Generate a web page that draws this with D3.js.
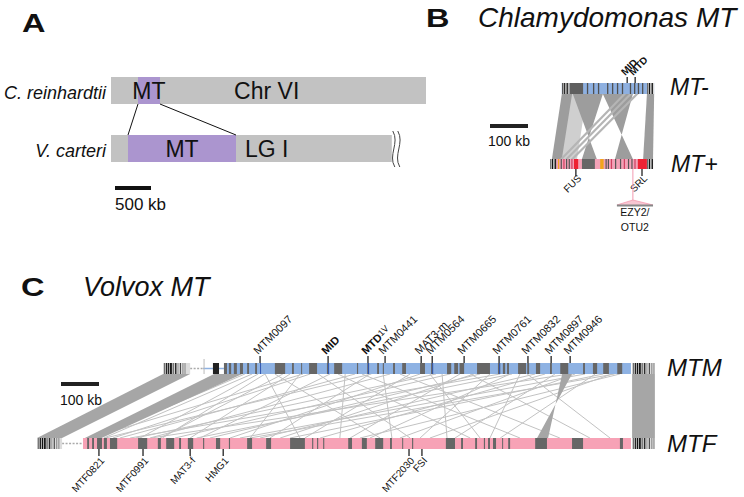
<!DOCTYPE html>
<html><head><meta charset="utf-8">
<script src="https://cdn.jsdelivr.net/npm/d3@7"></script>
<style>
body{margin:0;background:#fff}
svg{display:block}
text{font-family:"Liberation Sans",Arial,Helvetica,sans-serif;fill:#111}
</style>
</head><body>
<svg id="c" width="744" height="497"></svg>
<script>
// ================= DATA =================
// Panel A (kb)
const aSpecies = ["C. reinhardtii", "V. carteri"];
const aChromNames = ["Chr VI", "LG I"];
const aChromLength = [4375, 3900];
const aMTStart = [375, 236];
const aMTEnd = [680, 1736];
const aChromLabelKb = [1710, 1860];
const aScaleKb = 500;

// Panel B (kb along a shared axis)
const bRows = ["MT-", "MT+"];
const bMinusSpan = [189, 432];
const bPlusSpan = [158, 429];
const bMinusEnds = [[189, 210], [413, 432]];
const bPlusEnds = [[158, 174], [413, 429]];
const bMinusDark = [[210, 245]];
const bMinusStripes = [255, 271, 284, 308, 321, 334, 347, 368, 379, 389, 400];
const bPlusDark = [[242, 276]];
const bPlusRed = [[221, 232], [389, 413]];
const bPlusOrange = [[179, 182], [290, 299]];
const bPlusStripes = [186, 193, 200, 207, 214, 304, 310, 318, 329, 342, 352, 363, 372, 380];
const bRibbons = [ // [MT- start, MT- end, MT+ start, MT+ end]; reversed = inverted
  [189, 216, 163, 189],
  [218, 297, 281, 242],
  [297, 376, 376, 329],
  [413, 432, 403, 429]
];
const bLightRibbons = [[210, 255, 184, 229]];
const bThinBands = [[350, 358, 184, 192], [366, 374, 198, 206], [383, 391, 213, 221]];
const bMinusGenes = ["MID", "MTD"];
const bMinusGenePos = [361, 382];
const bPlusGenes = ["FUS", "SRL"];
const bPlusGenePos = [226, 400];
const bInsertPos = 376;
const bInsertSpan = [334, 429];
const bInsertLabel = ["EZY2/", "OTU2"];
const bScaleKb = 100;
const endStripesB = [[1, 2, 0.8], [5, 3, 1], [10, 2, 0.6], [13, 3, 0.9], [18, 2, 0.5]];

// Panel C (kb)
const cMTMSpan = [492, 1563];
const cMTFSpan = [121, 1563];
const cMTMEnds = [[332, 403], [1566, 1626]];
const cMTFEnds = [[0, 66], [1566, 1626]];
const cMTMDashed = [403, 437];
const cMTFDashed = [66, 121];
const cMTMBlueLink = [437, 492];
const cMTMBlack = [[463, 479]];
const cMTMBlocks = [[492,500],[505,511],[518,526],[534,542],[553,558],[574,579],[626,653],[671,676],[695,697],[716,737],[763,766],[782,803],[842,845],[869,874],[895,900],[910,913],[937,942],[961,971],[1008,1021],[1037,1042],[1079,1090],[1098,1108],[1112,1124],[1158,1192],[1213,1219],[1226,1232],[1237,1242],[1266,1287],[1290,1295],[1313,1324],[1350,1355],[1377,1398],[1437,1442],[1463,1474],[1490,1505],[1527,1540]];
const cMTMBlueMarks = [587, 766, 871, 1040, 1216];
const cMTFBlocks = [[132,137],[145,150],[158,171],[176,184],[192,211],[266,290],[318,326],[340,361],[374,379],[397,411],[437,440],[471,482],[505,508],[553,566],[603,616],[666,705],[724,727],[737,740],[753,756],[819,829],[855,868],[890,911],[929,934],[961,963],[987,990],[1076,1100],[1116,1121],[1153,1158],[1176,1179],[1187,1192],[1200,1208],[1224,1226],[1240,1245],[1311,1342],[1408,1437],[1534,1542]];
const cMTMGenes = ["MTM0097", "MID", "MTD1V", "MTM0441", "MAT3-m", "MTM0564", "MTM0665", "MTM0761", "MTM0832", "MTM0897", "MTM0946"];
const cMTMGenePos = [587, 766, 871, 916, 1011, 1040, 1124, 1216, 1292, 1353, 1403];
const cMTFGenes = ["MTF0821", "MTF0991", "MAT3-f", "HMG1", "MTF2030", "FSI"];
const cMTFGenePos = [163, 279, 403, 490, 979, 1013];
const cRibbons = [ // [MTM start, MTM end, MTF start, MTF end]
  [332, 403, 0, 66],
  [466, 540, 126, 170],
  [1382, 1408, 1345, 1316],
  [1566, 1626, 1566, 1626]
];
const cLinks = [ // [MTM kb, MTF kb]
  [547,153],[566,176],[582,271],[600,692],[626,903],[647,324],[666,403],[692,561],
  [719,200],[740,982],[771,429],[792,1140],[811,797],[837,218],[855,1271],[876,613],
  [911,934],[929,297],[955,1376],[982,705],[1008,508],[1034,1166],[1066,1079],[1087,363],
  [1113,824],[1140,1455],[1166,455],[1192,1008],[1219,245],[1245,876],[1271,1192],[1290,1508],
  [1311,587],[1337,745],[1363,1100],[1416,955],[1442,534],[1469,1219],[1490,666],[1513,1034],
  [1534,850],[600,330],[700,140],[880,180],[1050,260],[1150,640],[1250,420],[1400,300],[1520,560]
];
const endStripesC = [[2,3,0.5],[7,4,0.9],[13,3,1],[18,5,0.95],[25,3,0.6],[31,4,0.85],[38,2,0.4],[44,3,0.7],[51,2,0.5],[56,3,0.3]];
const cScaleKb = 100;

// ================= DRAW =================
const svg = d3.select("#c");
const shade = d3.scaleLinear().domain([0, 1]).range(["#c8c8c8", "#111111"]);

function letter(t, x, y) {
  svg.append("text").attr("transform", `translate(${x},${y}) scale(1.3,1)`)
    .attr("font-size", 25).attr("font-weight", "bold").text(t);
}
letter("A", 22, 32); letter("B", 426, 27); letter("C", 21, 296);

// ---------- Panel A ----------
const xA = d3.scaleLinear().domain([0, 500]).range([0, 36]);
const aX0 = 111;
const aRowY = d3.scalePoint().domain(aSpecies).range([77, 135]);
const aH = 27;
const gA = svg.append("g");
gA.selectAll(".chr").data(aSpecies).join("rect")
  .attr("x", aX0).attr("y", d => aRowY(d))
  .attr("width", (d, i) => xA(aChromLength[i])).attr("height", aH).attr("fill", "#c2c2c2");
gA.selectAll(".mt").data(aSpecies).join("rect")
  .attr("x", (d, i) => aX0 + xA(aMTStart[i])).attr("y", d => aRowY(d))
  .attr("width", (d, i) => xA(aMTEnd[i]) - xA(aMTStart[i])).attr("height", aH).attr("fill", "#ab95cf");
gA.selectAll(".sp").data(aSpecies).join("text")
  .attr("x", 106).attr("y", d => aRowY(d) + 22).attr("text-anchor", "end")
  .attr("font-size", 18).attr("font-style", "italic").text(d => d);
gA.selectAll(".mtl").data(aSpecies).join("text")
  .attr("x", (d, i) => aX0 + (xA(aMTStart[i]) + xA(aMTEnd[i])) / 2).attr("y", d => aRowY(d) + 22)
  .attr("text-anchor", "middle").attr("font-size", 23).text("MT");
gA.selectAll(".chl").data(aSpecies).join("text")
  .attr("x", (d, i) => aX0 + xA(aChromLabelKb[i])).attr("y", d => aRowY(d) + 22)
  .attr("font-size", 23).text((d, i) => aChromNames[i]);
// connectors
[[aMTStart[0], aMTStart[1]], [aMTEnd[0], aMTEnd[1]]].forEach(p => {
  gA.append("line").attr("x1", aX0 + xA(p[0])).attr("y1", aRowY(aSpecies[0]) + aH)
    .attr("x2", aX0 + xA(p[1])).attr("y2", aRowY(aSpecies[1]))
    .attr("stroke", "#111").attr("stroke-width", 1);
});
// break marks
const bx = aX0 + xA(aChromLength[1]);
const by = aRowY(aSpecies[1]);
[1, 6].forEach(o => {
  gA.append("path").attr("d", `M${bx + o},${by - 4} C${bx + o + 7},${by + 8} ${bx + o - 5},${by + 20} ${bx + o + 2},${by + aH + 5}`)
    .attr("fill", "none").attr("stroke", "#444").attr("stroke-width", 1);
});
gA.append("line").attr("x1", 115).attr("x2", 115 + xA(aScaleKb)).attr("y1", 188).attr("y2", 188)
  .attr("stroke", "#111").attr("stroke-width", 4);
gA.append("text").attr("x", 115).attr("y", 210).attr("font-size", 17).text(aScaleKb + " kb");

// ---------- Panel B ----------
svg.append("text").attr("x", 478).attr("y", 27).attr("font-size", 28).attr("font-style", "italic").text("Chlamydomonas MT");
const xB = d3.scaleLinear().domain([0, 100]).range([490, 528]);
const bMinusY = 83, bMinusH = 11, bPlusY = 159, bPlusH = 10;
const gB = svg.append("g");
// ribbons
gB.selectAll(".lr").data(bLightRibbons).join("path")
  .attr("d", d => `M${xB(d[0])},${bMinusY + bMinusH}L${xB(d[1])},${bMinusY + bMinusH}L${xB(d[3])},${bPlusY}L${xB(d[2])},${bPlusY}Z`)
  .attr("fill", "#cfcfcf");
gB.selectAll(".rb").data(bRibbons).join("path")
  .attr("d", d => `M${xB(d[0])},${bMinusY + bMinusH}L${xB(d[1])},${bMinusY + bMinusH}L${xB(d[3])},${bPlusY}L${xB(d[2])},${bPlusY}Z`)
  .attr("fill", "#9d9d9d");
gB.selectAll(".tb").data(bThinBands).join("path")
  .attr("d", d => `M${xB(d[0])},${bMinusY + bMinusH}L${xB(d[1])},${bMinusY + bMinusH}L${xB(d[3])},${bPlusY}L${xB(d[2])},${bPlusY}Z`)
  .attr("fill", "#b5b5b5");
// MT- bar
gB.append("rect").attr("x", xB(bMinusSpan[0])).attr("y", bMinusY).attr("width", xB(bMinusSpan[1]) - xB(bMinusSpan[0])).attr("height", bMinusH).attr("fill", "#8eb0e0");
gB.selectAll(".md").data(bMinusDark).join("rect").attr("x", d => xB(d[0])).attr("width", d => xB(d[1]) - xB(d[0])).attr("y", bMinusY).attr("height", bMinusH).attr("fill", "#5f5f5f");
gB.selectAll(".ms").data(bMinusStripes).join("rect").attr("x", d => xB(d)).attr("width", 1.3).attr("y", bMinusY).attr("height", bMinusH).attr("fill", "#505050");
// MT+ bar
gB.append("rect").attr("x", xB(bPlusSpan[0])).attr("y", bPlusY).attr("width", xB(bPlusSpan[1]) - xB(bPlusSpan[0])).attr("height", bPlusH).attr("fill", "#f3a2b7");
gB.selectAll(".pr").data(bPlusRed).join("rect").attr("x", d => xB(d[0])).attr("width", d => xB(d[1]) - xB(d[0])).attr("y", bPlusY).attr("height", bPlusH).attr("fill", "#ee2233");
gB.selectAll(".pd").data(bPlusDark).join("rect").attr("x", d => xB(d[0])).attr("width", d => xB(d[1]) - xB(d[0])).attr("y", bPlusY).attr("height", bPlusH).attr("fill", "#666");
gB.selectAll(".po").data(bPlusOrange).join("rect").attr("x", d => xB(d[0])).attr("width", d => xB(d[1]) - xB(d[0])).attr("y", bPlusY).attr("height", bPlusH).attr("fill", "#f2a51c");
gB.selectAll(".ps").data(bPlusStripes).join("rect").attr("x", d => xB(d)).attr("width", 1.2).attr("y", bPlusY).attr("height", bPlusH).attr("fill", (d, i) => i % 3 === 1 ? "#d04060" : "#555");
// stripe ends
function stripeEnds(g, ends, y, h, pat, xs) {
  ends.forEach(e => {
    g.append("rect").attr("x", xs(e[0])).attr("y", y).attr("width", xs(e[1]) - xs(e[0])).attr("height", h).attr("fill", "#dcdcdc");
    pat.forEach(s => {
      if (e[0] + s[0] + s[1] <= e[1] + 0.5)
        g.append("rect").attr("x", xs(e[0] + s[0])).attr("y", y).attr("width", Math.max(0.8, xs(e[0] + s[0] + s[1]) - xs(e[0] + s[0]))).attr("height", h).attr("fill", shade(s[2]));
    });
  });
}
stripeEnds(gB, bMinusEnds, bMinusY, bMinusH, endStripesB, xB);
stripeEnds(gB, bPlusEnds, bPlusY, bPlusH, endStripesB, xB);
// genes
gB.selectAll(".mg").data(bMinusGenePos).join("line").attr("x1", d => xB(d)).attr("x2", d => xB(d)).attr("y1", bMinusY - 6).attr("y2", bMinusY).attr("stroke", "#222").attr("stroke-width", 1.3);
gB.selectAll(".mgt").data(bMinusGenes).join("text")
  .attr("transform", (d, i) => `translate(${xB(bMinusGenePos[i]) - 2},${bMinusY - 7}) rotate(-45)`)
  .attr("font-size", 10).attr("font-weight", "bold").text(d => d);
gB.selectAll(".pg").data(bPlusGenePos).join("line").attr("x1", d => xB(d)).attr("x2", d => xB(d)).attr("y1", bPlusY + bPlusH).attr("y2", bPlusY + bPlusH + 7).attr("stroke", "#222").attr("stroke-width", 1.3);
gB.selectAll(".pgt").data(bPlusGenes).join("text")
  .attr("transform", (d, i) => `translate(${xB(bPlusGenePos[i]) + 6},${bPlusY + bPlusH + 10}) rotate(-45)`)
  .attr("text-anchor", "end").attr("font-size", 10).attr("fill", "#333").text(d => d);
// insert
const ix = xB(bInsertPos);
gB.append("line").attr("x1", ix).attr("x2", ix).attr("y1", bPlusY + bPlusH).attr("y2", 201).attr("stroke", "#f29ab0").attr("stroke-width", 1);
gB.append("path").attr("d", `M${xB(bInsertSpan[0])},205L${ix},200L${xB(bInsertSpan[1])},205`).attr("fill", "#f7c6d2").attr("stroke", "#f29ab0").attr("stroke-width", 0.8);
gB.append("rect").attr("x", xB(bInsertSpan[0])).attr("y", 204.5).attr("width", xB(bInsertSpan[1]) - xB(bInsertSpan[0])).attr("height", 2).attr("fill", "#888");
gB.selectAll(".il").data(bInsertLabel).join("text").attr("x", ix + 2).attr("y", (d, i) => 216 + i * 15)
  .attr("text-anchor", "middle").attr("font-size", 10.5).attr("fill", "#222").text(d => d);
gB.selectAll(".rowl").data(bRows).join("text").attr("x", (d, i) => i ? 671 : 670).attr("y", (d, i) => i ? 172 : 95)
  .attr("font-size", 23).attr("font-style", "italic").text(d => d);
gB.append("line").attr("x1", xB(0)).attr("x2", xB(bScaleKb)).attr("y1", 126).attr("y2", 126).attr("stroke", "#222").attr("stroke-width", 4);
gB.append("text").attr("x", 488).attr("y", 146).attr("font-size", 14).text(bScaleKb + " kb");

// ---------- Panel C ----------
svg.append("text").attr("x", 83).attr("y", 296).attr("font-size", 27).attr("font-style", "italic").text("Volvox MT");
const xC = d3.scaleLinear().domain([0, 100]).range([37, 75]);
const mY = 363, mH = 11, fY = 438, fH = 11;
const gC = svg.append("g");
gC.selectAll(".lk").data(cLinks).join("line")
  .attr("x1", d => xC(d[0])).attr("y1", mY + mH).attr("x2", d => xC(d[1])).attr("y2", fY)
  .attr("stroke", "#c2c2c2").attr("stroke-width", 1);
gC.selectAll(".cr").data(cRibbons).join("path")
  .attr("d", d => `M${xC(d[0])},${mY + mH}L${xC(d[1])},${mY + mH}L${xC(d[3])},${fY}L${xC(d[2])},${fY}Z`)
  .attr("fill", "#a6a6a6");
// MTM
gC.append("line").attr("x1", xC(cMTMDashed[0])).attr("x2", xC(cMTMDashed[1])).attr("y1", mY + mH / 2).attr("y2", mY + mH / 2).attr("stroke", "#aaa").attr("stroke-width", 1.5).attr("stroke-dasharray", "2,1.5");
gC.append("line").attr("x1", xC(cMTMBlueLink[0])).attr("x2", xC(cMTMBlueLink[1])).attr("y1", mY + mH / 2).attr("y2", mY + mH / 2).attr("stroke", "#8eb2e3").attr("stroke-width", 1.5);
gC.append("line").attr("x1", xC(cMTMDashed[1]) + 1).attr("x2", xC(cMTMDashed[1]) + 1).attr("y1", mY - 4).attr("y2", mY + mH).attr("stroke", "#bbb").attr("stroke-width", 1);
gC.selectAll(".mb").data(cMTMBlack).join("rect").attr("x", d => xC(d[0])).attr("width", d => xC(d[1]) - xC(d[0])).attr("y", mY).attr("height", mH).attr("fill", "#222");
gC.append("rect").attr("x", xC(cMTMSpan[0])).attr("y", mY).attr("width", xC(cMTMSpan[1]) - xC(cMTMSpan[0])).attr("height", mH).attr("fill", "#8eb2e3");
gC.selectAll(".mbk").data(cMTMBlocks).join("rect").attr("x", d => xC(d[0])).attr("width", d => Math.max(1, xC(d[1]) - xC(d[0]))).attr("y", mY).attr("height", mH).attr("fill", "#666");
gC.selectAll(".mbm").data(cMTMBlueMarks).join("rect").attr("x", d => xC(d)).attr("width", 1).attr("y", mY).attr("height", mH).attr("fill", "#2f55b0");
// MTF
gC.append("line").attr("x1", xC(cMTFDashed[0])).attr("x2", xC(cMTFDashed[1])).attr("y1", fY + fH / 2).attr("y2", fY + fH / 2).attr("stroke", "#aaa").attr("stroke-width", 1.5).attr("stroke-dasharray", "2,1.5");
gC.append("rect").attr("x", xC(cMTFSpan[0])).attr("y", fY).attr("width", xC(cMTFSpan[1]) - xC(cMTFSpan[0])).attr("height", fH).attr("fill", "#f7a2b6");
gC.selectAll(".fbk").data(cMTFBlocks).join("rect").attr("x", d => xC(d[0])).attr("width", d => Math.max(1, xC(d[1]) - xC(d[0]))).attr("y", fY).attr("height", fH).attr("fill", "#666");
stripeEnds(gC, cMTMEnds, mY, mH, endStripesC, xC);
stripeEnds(gC, cMTFEnds, fY, fH, endStripesC, xC);
// gene ticks & labels
gC.selectAll(".mgt").data(cMTMGenePos).join("line").attr("x1", d => xC(d)).attr("x2", d => xC(d)).attr("y1", mY - 7).attr("y2", mY).attr("stroke", "#222").attr("stroke-width", 1.3);
const mLab = gC.selectAll(".mgl").data(cMTMGenes).join("text")
  .attr("transform", (d, i) => `translate(${xC(cMTMGenePos[i]) - 2},${mY - 8}) rotate(-45)`)
  .attr("font-size", 11).attr("fill", "#222");
mLab.each(function (d) {
  const t = d3.select(this);
  if (d === "MID") t.attr("font-weight", "bold").text(d);
  else if (d === "MTD1V") { t.append("tspan").attr("font-weight", "bold").text("MTD"); t.append("tspan").attr("font-size", 9).attr("dy", -2).text("1V"); }
  else t.text(d);
});
gC.selectAll(".fgt").data(cMTFGenePos).join("line").attr("x1", d => xC(d)).attr("x2", d => xC(d)).attr("y1", fY + fH).attr("y2", fY + fH + 7).attr("stroke", "#222").attr("stroke-width", 1.3);
gC.selectAll(".fgl").data(cMTFGenes).join("text")
  .attr("transform", (d, i) => `translate(${xC(cMTFGenePos[i]) + 6},${fY + fH + 12}) rotate(-48)`)
  .attr("text-anchor", "end").attr("font-size", 10).attr("fill", "#222").text(d => d);
svg.append("text").attr("x", 667).attr("y", 376).attr("font-size", 24).attr("font-style", "italic").text("MTM");
svg.append("text").attr("x", 667).attr("y", 452).attr("font-size", 24).attr("font-style", "italic").text("MTF");
gC.append("line").attr("x1", 61).attr("x2", 61 + xC(cScaleKb) - xC(0)).attr("y1", 384).attr("y2", 384).attr("stroke", "#222").attr("stroke-width", 4);
gC.append("text").attr("x", 60).attr("y", 405).attr("font-size", 14).text(cScaleKb + " kb");
</script>
</body></html>
